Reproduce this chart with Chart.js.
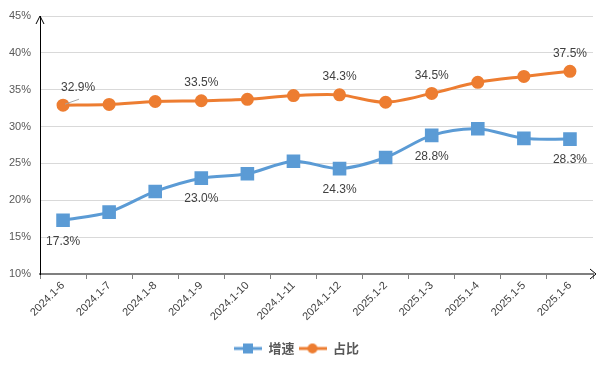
<!DOCTYPE html>
<html>
<head>
<meta charset="utf-8">
<script src="https://cdn.jsdelivr.net/npm/chart.js@4/dist/chart.umd.min.js"></script>
<style>
  html, body { margin: 0; padding: 0; background: #fff; }
  #wrap { width: 609px; height: 369px; }
</style>
</head>
<body>
<div id="wrap"><canvas id="chart" width="609" height="369"></canvas></div>
<script>
const categories = ['2024.1-6', '2024.1-7', '2024.1-8', '2024.1-9', '2024.1-10', '2024.1-11',
                    '2024.1-12', '2025.1-2', '2025.1-3', '2025.1-4', '2025.1-5', '2025.1-6'];
const growth = [17.3, 18.4, 21.2, 23.0, 23.6, 25.3, 24.3, 25.8, 28.8, 29.7, 28.4, 28.3];
const share = [32.9, 33.0, 33.4, 33.5, 33.7, 34.2, 34.3, 33.3, 34.5, 36.0, 36.8, 37.5];
const labelled = [0, 3, 6, 8, 11];
const yTicks = [10, 15, 20, 25, 30, 35, 40, 45];

const blue = '#5B9BD5';
const orange = '#ED7D31';
const textColor = '#404040';

function legendIcon(color, style) {
    const c = document.createElement('canvas');
    c.width = 28; c.height = 12;
    const g = c.getContext('2d');
    g.strokeStyle = color; g.lineWidth = 3;
    g.beginPath(); g.moveTo(0, 6); g.lineTo(28, 6); g.stroke();
    g.fillStyle = color;
    if (style === 'rect') {
        g.fillRect(9, 1, 10, 10);
    } else {
        g.beginPath(); g.arc(14, 6, 5, 0, Math.PI * 2); g.fill();
    }
    return c;
}

// value labels + axis arrows
const extras = {
    id: 'extras',
    afterDatasetsDraw(chart) {
        const ctx = chart.ctx;
        ctx.save();
        ctx.font = '12px "Liberation Sans", Arial, sans-serif';
        ctx.fillStyle = textColor;
        ctx.textAlign = 'center';
        ctx.textBaseline = 'middle';
        const m0 = chart.getDatasetMeta(0).data;
        const m1 = chart.getDatasetMeta(1).data;
        labelled.forEach(i => {
            ctx.fillText(growth[i].toFixed(1) + '%', m0[i].x, m0[i].y + 21);
            const dx = i === 0 ? 15 : 0;
            ctx.fillText(share[i].toFixed(1) + '%', m1[i].x + dx, m1[i].y - 18);
        });
        // leader line for the first share label
        ctx.strokeStyle = '#A6A6A6';
        ctx.lineWidth = 1;
        ctx.beginPath();
        ctx.moveTo(m1[0].x + 2, m1[0].y - 1);
        ctx.lineTo(m1[0].x + 16, m1[0].y - 6);
        ctx.stroke();

        const a = chart.chartArea;
        ctx.strokeStyle = '#000';
        ctx.lineWidth = 1;
        ctx.beginPath();
        ctx.moveTo(a.left - 4, a.top + 8);
        ctx.lineTo(a.left, a.top);
        ctx.lineTo(a.left + 4, a.top + 8);
        ctx.stroke();
        ctx.beginPath();
        ctx.moveTo(a.right - 3, a.bottom - 5);
        ctx.lineTo(a.right + 3, a.bottom);
        ctx.lineTo(a.right - 3, a.bottom + 5);
        ctx.stroke();
        ctx.restore();
    }
};

new Chart(document.getElementById('chart'), {
    type: 'line',
    data: {
        labels: categories,
        datasets: [{
            label: '增速',
            data: growth,
            borderColor: blue,
            backgroundColor: blue,
            borderWidth: 3,
            pointStyle: 'rect',
            pointRadius: 7.5,
            pointHoverRadius: 7.5,
            tension: 0.3
        }, {
            label: '占比',
            data: share,
            borderColor: orange,
            backgroundColor: orange,
            borderWidth: 3,
            pointStyle: 'circle',
            pointRadius: 5,
            pointHoverRadius: 5,
            tension: 0.3
        }]
    },
    options: {
        responsive: false,
        animation: false,
        layout: { padding: { top: 16, right: 16, bottom: 4, left: 0 } },
        plugins: {
            tooltip: { enabled: false },
            legend: {
                position: 'bottom',
                labels: {
                    usePointStyle: true,
                    pointStyleWidth: 28,
                    boxHeight: 12,
                    padding: 4,
                    color: '#595959',
                    font: { family: '"Noto Sans CJK SC", sans-serif', size: 13, weight: 'bold' },
                    generateLabels(chart) {
                        return chart.data.datasets.map((ds, i) => ({
                            text: ds.label,
                            pointStyle: legendIcon(ds.borderColor, ds.pointStyle),
                            fillStyle: ds.borderColor,
                            strokeStyle: ds.borderColor,
                            lineWidth: 0,
                            fontColor: '#595959',
                            datasetIndex: i
                        }));
                    }
                }
            }
        },
        scales: {
            x: {
                offset: true,
                grid: { offset: true, drawOnChartArea: false, drawTicks: true, tickLength: 5, tickColor: '#7F7F7F' },
                border: { color: '#7F7F7F', width: 2 },
                ticks: {
                    minRotation: 45, maxRotation: 45, autoSkip: false,
                    color: textColor,
                    font: { family: '"Liberation Sans", Arial, sans-serif', size: 11 },
                    padding: 0
                },
                afterFit(scale) { scale.height = 64; }
            },
            y: {
                min: 10, max: 45,
                afterBuildTicks(scale) { scale.ticks = yTicks.map(v => ({ value: v })); },
                grid: { color: '#D9D9D9', drawTicks: false },
                border: { color: '#000', width: 1 },
                ticks: {
                    color: '#595959',
                    padding: 9,
                    font: { family: '"Liberation Sans", Arial, sans-serif', size: 11 },
                    callback: v => v + '%'
                },
                afterFit(scale) { scale.width = 40; }
            }
        }
    },
    plugins: [extras]
});
</script>
</body>
</html>
